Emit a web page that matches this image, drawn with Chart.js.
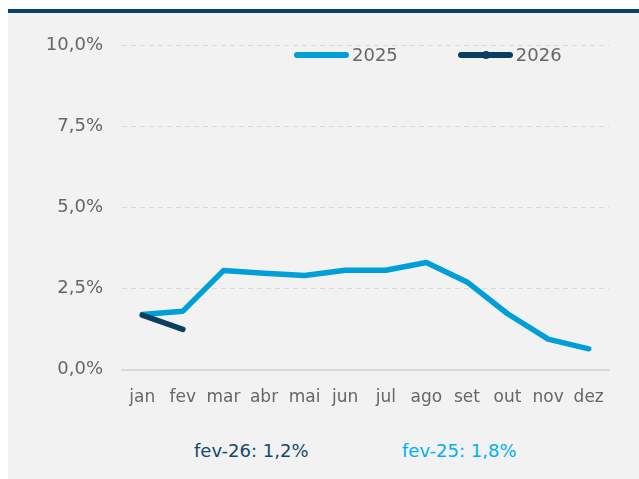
<!DOCTYPE html>
<html>
<head>
<meta charset="utf-8">
<script src="https://cdn.jsdelivr.net/npm/chart.js@4"></script>
<style>
    body { margin: 0; background: #fff; font-family: "DejaVu Sans", sans-serif; }
    #bar { position: absolute; left: 8px; top: 9px; width: 631px; height: 4px; background: #0b4468; }
    #panel { position: absolute; left: 8px; top: 13px; width: 631px; height: 466px; background: #f2f2f2; }
    #wrap { position: absolute; left: 0; top: 0; width: 631px; height: 420px; }
    #legend { position: absolute; left: 286px; top: 31px; display: flex; gap: 60px; align-items: center; }
    .item { display: flex; align-items: center; font-size: 18px; color: #666; }
    .line { position: relative; width: 55px; height: 6px; border-radius: 3px; margin-right: 3px; }
    .dot { position: absolute; left: 24px; top: -1px; width: 8px; height: 8px; border-radius: 50%; }
    .note { position: absolute; top: 427px; font-size: 18px; }
</style>
</head>
<body>
<div id="bar"></div>
<div id="panel">
    <div id="wrap"><canvas id="grafico"></canvas></div>
    <div id="legend"></div>
    <div class="note" id="nota26" style="left: 186px; color: #104a6c;"></div>
    <div class="note" id="nota25" style="left: 394px; color: #00b0f0;"></div>
</div>
<script>
const meses = ["jan", "fev", "mar", "abr", "mai", "jun", "jul", "ago", "set", "out", "nov", "dez"];
const valores2025 = [1.7, 1.8, 3.05, 2.97, 2.9, 3.06, 3.06, 3.3, 2.7, 1.72, 0.94, 0.64];
const valores2026 = [1.68, 1.24];
const ticksY = [0, 2.5, 5, 7.5, 10];

const cor2025 = "#009fd8";
const cor2026 = "#0b3f60";

function fmt(v) {
    return v.toFixed(1).replace(".", ",") + "%";
}

Chart.defaults.font.family = "'DejaVu Sans', sans-serif";
Chart.defaults.font.size = 18;
Chart.defaults.color = "#666";

const chart = new Chart(document.getElementById("grafico").getContext("2d"), {
    type: "line",
    data: {
        labels: meses,
        datasets: [
            {
                label: "2025",
                data: valores2025,
                borderColor: cor2025,
                backgroundColor: cor2025,
                borderWidth: 5.5,
                borderCapStyle: "round",
                borderJoinStyle: "round",
                pointRadius: 0,
                order: 1,
            },
            {
                label: "2026",
                data: valores2026,
                borderColor: cor2026,
                backgroundColor: cor2026,
                borderWidth: 5.5,
                borderCapStyle: "round",
                borderJoinStyle: "round",
                pointRadius: 0,
                order: 0,
            },
        ],
    },
    options: {
        responsive: true,
        maintainAspectRatio: false,
        animation: false,
        layout: { padding: { left: 0, right: 30, top: 32, bottom: 7 } },
        scales: {
            x: {
                offset: true,
                grid: { display: false, drawTicks: false },
                border: { display: true, color: "#d9d9d9", width: 2 },
                ticks: { padding: 18, maxRotation: 0, minRotation: 0, autoSkip: false, font: { size: 17 } },
            },
            y: {
                min: ticksY[0],
                max: ticksY[ticksY.length - 1],
                afterBuildTicks: (scale) => {
                    scale.ticks = ticksY.map((v) => ({ value: v }));
                },
                afterFit: (scale) => {
                    scale.width = 114;
                },
                grid: { color: "#d9d9d9", lineWidth: 1, drawTicks: false },
                border: { display: false, dash: [5, 4] },
                ticks: { padding: 19, callback: (v) => fmt(v) },
            },
        },
        plugins: {
            legend: { display: false },
            tooltip: { enabled: false },
        },
    },
});

// legenda em html, a partir dos datasets
const legend = document.getElementById("legend");
chart.data.datasets.forEach((ds, i) => {
    const item = document.createElement("div");
    item.className = "item";
    const line = document.createElement("span");
    line.className = "line";
    line.style.background = ds.borderColor;
    if (i === 1) {
        const dot = document.createElement("span");
        dot.className = "dot";
        dot.style.background = ds.borderColor;
        line.appendChild(dot);
    }
    item.appendChild(line);
    item.appendChild(document.createTextNode(ds.label));
    legend.appendChild(item);
});

const ultimo = valores2026.length - 1;
document.getElementById("nota26").textContent = meses[ultimo] + "-26: " + fmt(valores2026[ultimo]);
document.getElementById("nota25").textContent = meses[ultimo] + "-25: " + fmt(valores2025[ultimo]);
</script>
</body>
</html>
